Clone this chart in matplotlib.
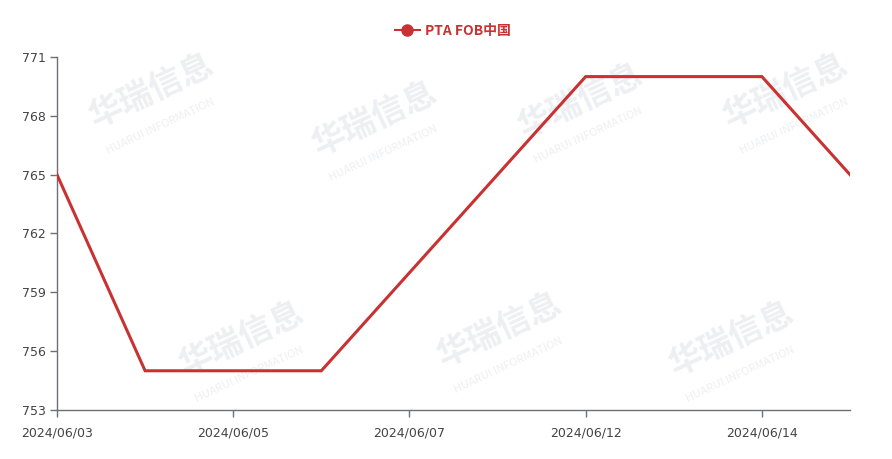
import matplotlib
matplotlib.use("Agg")
import matplotlib.pyplot as plt
from matplotlib.lines import Line2D

plt.rcParams['font.family'] = ['Noto Sans CJK SC', 'DejaVu Sans']

dates = ["2024/06/03", "2024/06/04", "2024/06/05", "2024/06/06", "2024/06/07",
         "2024/06/11", "2024/06/12", "2024/06/13", "2024/06/14", "2024/06/17"]
values = [765, 755, 755, 755, 760, 765, 770, 770, 770, 765]
series_name = "PTA FOB中国"
yticks = [753, 756, 759, 762, 765, 768, 771]

color = "#c83232"
axis_color = "#6e7079"

fig = plt.figure(figsize=(8.92, 4.59), dpi=100)
ax = fig.add_axes([57/892, 1-410/459, (850-57)/892, (410-57)/459])
ax.set_zorder(2)

# faint background watermarks
wm_pos = [(0.17, 0.80), (0.42, 0.74), (0.65, 0.78), (0.88, 0.80),
          (0.27, 0.26), (0.56, 0.28), (0.82, 0.26)]
for (wx, wy) in wm_pos:
    fig.text(wx, wy, "华瑞信息", fontsize=24, fontweight='bold', color="#eeeff2",
             rotation=25, ha='center', va='center', zorder=-1)
    fig.text(wx + 0.01, wy - 0.075, "HUARUI INFORMATION", fontsize=8, color="#eeeff2",
             rotation=25, ha='center', va='center', zorder=-1)

x = list(range(len(dates)))
ax.plot(x, values, color=color, linewidth=2.2, zorder=3, solid_joinstyle='miter')
ax.patch.set_alpha(0)

ax.set_xlim(0, len(dates) - 1)
ax.set_ylim(753, 771)
ax.set_yticks(yticks)
ax.set_yticklabels([str(v) for v in yticks], family='DejaVu Sans')
ax.set_xticks(x[::2])
ax.set_xticklabels(dates[::2], family='DejaVu Sans')

for s in ['top', 'right']:
    ax.spines[s].set_visible(False)
for s in ['left', 'bottom']:
    ax.spines[s].set_color(axis_color)
    ax.spines[s].set_linewidth(1)

ax.tick_params(axis='both', colors=axis_color, length=5, width=1, direction='out',
               labelsize=9, labelcolor="#444444")
ax.tick_params(axis='x', pad=7)
ax.tick_params(axis='y', pad=3)

handle = Line2D([0], [0], color=color, linewidth=1.5, marker='o', markersize=8,
                markerfacecolor=color, markeredgecolor=color)
leg = fig.legend([handle], [series_name], loc='center', bbox_to_anchor=(453/892, 1-31/459),
                 frameon=False, handlelength=1.8, handletextpad=0.4, fontsize=10)
for t in leg.get_texts():
    t.set_color(color)
    t.set_fontweight('bold')

fig.savefig("out.png", dpi=100)
